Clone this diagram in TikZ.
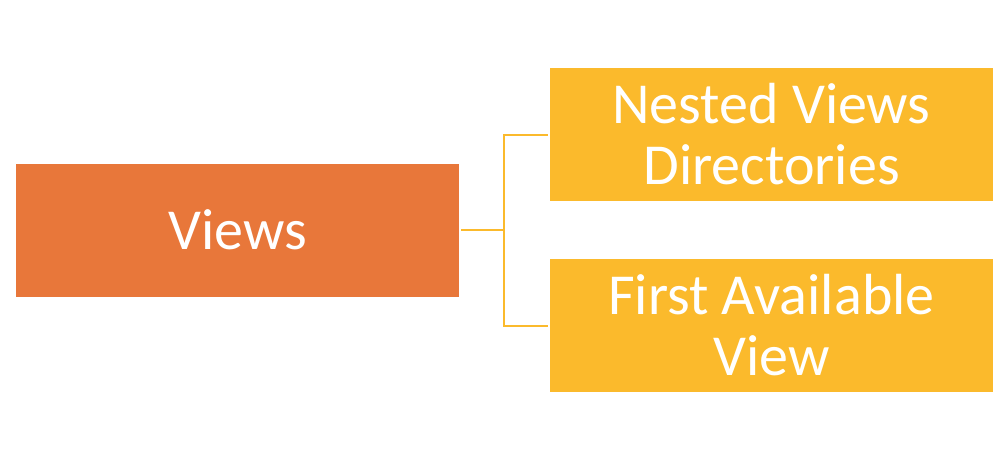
\documentclass[tikz,border=0pt]{standalone}
\usepackage{fontspec}
\setmainfont{Carlito}
\definecolor{vorange}{HTML}{E8773A}
\definecolor{vyellow}{HTML}{FBBA2C}
\begin{document}
\begin{tikzpicture}[x=1pt,y=-1pt,
  box/.style={minimum width=443pt, minimum height=133pt, inner sep=0pt,
    text=white, font=\fontsize{58}{61}\selectfont, align=center},
  link/.style={draw=vyellow, line width=2pt}]
\useasboundingbox (0,0) rectangle (1006,458);
% boxes
\node[box, fill=vorange] (views)  at (237.5,230)   {Views};
\node[box, fill=vyellow] (nested) at (771.5,134.5) {Nested Views\\Directories};
\node[box, fill=vyellow] (first)  at (771.5,325.5) {First Available\\View};
% bracket connector
\coordinate (fork) at (504,230);
\draw[link, shorten <=2pt] (views.east) -- (fork);
\draw[link, shorten >=1.5pt] (fork) |- (nested.west);
\draw[link, shorten >=1.5pt] (fork) |- (first.west);
\end{tikzpicture}
\end{document}
